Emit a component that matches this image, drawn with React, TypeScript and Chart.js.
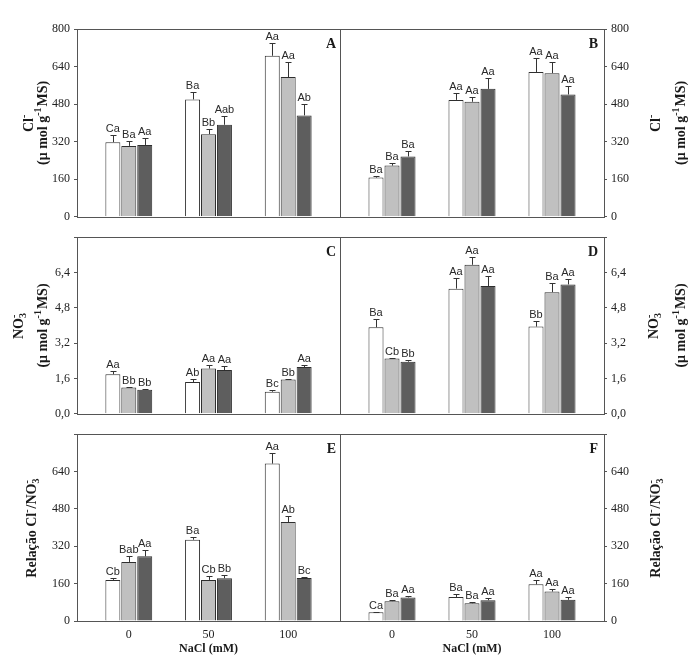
import React, { useEffect, useRef } from 'react';
import { Chart, registerables } from 'chart.js';

Chart.register(...registerables);

// ---------- DATA ----------
const doses = ['0', '50', '100'];
const fills = ['#ffffff', '#c0c0c0', '#5e5e5e'];

// Panel A (Cl-, left)
const aMeans = [[318, 500, 686], [302, 352, 595], [306, 392, 432]];
const aErrs = [[30, 33, 56], [21, 21, 66], [30, 38, 48]];
const aLetters = [['Ca', 'Ba', 'Aa'], ['Ba', 'Bb', 'Aa'], ['Aa', 'Aab', 'Ab']];

// Panel B (Cl-, right)
const bMeans = [[167, 498, 617], [218, 490, 612], [257, 545, 521]];
const bErrs = [[7, 31, 58], [12, 20, 47], [23, 46, 37]];
const bLetters = [['Ba', 'Aa', 'Aa'], ['Ba', 'Aa', 'Aa'], ['Ba', 'Aa', 'Aa']];

// Panel C (NO3-, left)
const cMeans = [[1.79, 1.44, 1.0], [1.19, 2.05, 1.55], [1.085, 1.98, 2.12]];
const cErrs = [[0.16, 0.15, 0.07], [0.04, 0.16, 0.04], [0.03, 0.19, 0.08]];
const cLetters = [['Aa', 'Ab', 'Bc'], ['Bb', 'Aa', 'Bb'], ['Bb', 'Aa', 'Aa']];

// Panel D (NO3-, right)
const dMeans = [[3.92, 5.67, 3.95], [2.5, 6.75, 5.51], [2.36, 5.79, 5.86]];
const dErrs = [[0.36, 0.47, 0.24], [0.03, 0.37, 0.43], [0.08, 0.43, 0.26]];
const dLetters = [['Ba', 'Aa', 'Bb'], ['Cb', 'Aa', 'Ba'], ['Bb', 'Aa', 'Aa']];

// Panel E (Cl-/NO3-, left)
const eMeans = [[176, 348, 674], [253, 176, 424], [277, 183, 184]];
const eErrs = [[7, 13, 44], [26, 15, 24], [29, 12, 5]];
const eLetters = [['Cb', 'Ba', 'Aa'], ['Bab', 'Cb', 'Ab'], ['Aa', 'Bb', 'Bc']];

// Panel F (Cl-/NO3-, right)
const fMeans = [[38, 103, 157], [85, 76, 126], [101, 89, 91]];
const fErrs = [[2, 11, 18], [6, 5, 11], [7, 11, 10]];
const fLetters = [['Ca', 'Ba', 'Aa'], ['Ba', 'Ba', 'Aa'], ['Aa', 'Aa', 'Aa']];

const xTitle = 'NaCl (mM)';

type Seg = { t: string; k?: 'sup' | 'sub' | 'subsup'; t2?: string };
const clTitle: Seg[] = [{ t: 'Cl' }, { t: '-', k: 'sup' }];
const no3Title: Seg[] = [{ t: 'NO' }, { t: '3', k: 'subsup', t2: '-' }];
const unitTitle: Seg[] = [{ t: '(μ mol g' }, { t: '-1', k: 'sup' }, { t: 'MS)' }];
const ratioTitle: Seg[] = [
  { t: 'Relação Cl' },
  { t: '-', k: 'sup' },
  { t: '/NO' },
  { t: '3', k: 'subsup', t2: '-' },
];

// ---------- DRAW HELPERS ----------
function drawRich(ctx: CanvasRenderingContext2D, segs: Seg[], cx: number, cy: number, size: number) {
  ctx.save();
  ctx.translate(cx, cy);
  ctx.rotate(-Math.PI / 2);
  const big = `bold ${size}px "Liberation Serif"`;
  const small = `bold ${Math.round(size * 0.72)}px "Liberation Serif"`;
  const widths = segs.map((s) => {
    if (!s.k) {
      ctx.font = big;
      return ctx.measureText(s.t).width;
    }
    ctx.font = small;
    const a = ctx.measureText(s.t).width;
    const b = s.t2 ? ctx.measureText(s.t2).width : 0;
    return Math.max(a, b) + 1;
  });
  const total = widths.reduce((p, c) => p + c, 0);
  let x = -total / 2;
  ctx.textAlign = 'left';
  ctx.textBaseline = 'alphabetic';
  ctx.fillStyle = '#1a1a1a';
  const base = size * 0.35;
  segs.forEach((s, i) => {
    if (!s.k) {
      ctx.font = big;
      ctx.fillText(s.t, x, base);
    } else if (s.k === 'sup') {
      ctx.font = small;
      ctx.fillText(s.t, x, base - size * 0.42);
    } else if (s.k === 'sub') {
      ctx.font = small;
      ctx.fillText(s.t, x, base + size * 0.22);
    } else {
      ctx.font = small;
      ctx.fillText(s.t, x, base + size * 0.22);
      if (s.t2) ctx.fillText(s.t2, x, base - size * 0.42);
    }
    x += widths[i];
  });
  ctx.restore();
}

interface PanelCfg {
  left: number;
  top: number;
  width: number;
  height: number;
  pad: { left: number; right: number; top: number; bottom: number };
  yPos: 'left' | 'right';
  yWidth: number;
  yMax: number;
  yStep: number;
  showTopLabel: boolean;
  decimals: number;
  xHeight: number;
  showX: boolean;
  letter: string;
  means: number[][];
  errs: number[][];
  letters: string[][];
  titles: { segs: Seg[]; x: number }[];
}

function makePlugin(p: PanelCfg) {
  return {
    id: 'panelDeco' + p.letter,
    afterDatasetsDraw(chart: any) {
      const ctx: CanvasRenderingContext2D = chart.ctx;
      const { left, top, right, bottom } = chart.chartArea;
      const y = chart.scales.y;
      p.means.forEach((vals, di) => {
        const meta = chart.getDatasetMeta(di);
        meta.data.forEach((bar: any, j: number) => {
          const v = vals[j];
          const e = p.errs[di][j];
          const yv = y.getPixelForValue(v);
          const yt = y.getPixelForValue(v + e);
          const x = Math.round(bar.x) + 0.5;
          ctx.save();
          ctx.strokeStyle = '#333';
          ctx.lineWidth = 1;
          if (e > 0) {
            ctx.beginPath();
            ctx.moveTo(x, yv);
            ctx.lineTo(x, Math.round(yt) + 0.5);
            ctx.moveTo(x - 3, Math.round(yt) + 0.5);
            ctx.lineTo(x + 3, Math.round(yt) + 0.5);
            ctx.stroke();
          }
          ctx.font = '11px "Liberation Sans"';
          ctx.fillStyle = '#2a2a2a';
          ctx.textAlign = 'center';
          ctx.textBaseline = 'alphabetic';
          ctx.fillText(p.letters[di][j], bar.x, yt - 3);
          ctx.restore();
        });
      });
      ctx.save();
      ctx.strokeStyle = '#555';
      ctx.lineWidth = 1;
      ctx.strokeRect(Math.round(left) + 0.5, Math.round(top) + 0.5, Math.round(right - left), Math.round(bottom - top));
      ctx.font = 'bold 14px "Liberation Serif"';
      ctx.fillStyle = '#1a1a1a';
      ctx.textAlign = 'right';
      ctx.textBaseline = 'middle';
      ctx.fillText(p.letter, right - (p.yPos === 'left' ? 4 : 6), top + 15);
      const cy = (top + bottom) / 2;
      p.titles.forEach((t) => drawRich(ctx, t.segs, t.x - p.left, cy, 14));
      if (p.showX) {
        ctx.font = 'bold 12px "Liberation Serif"';
        ctx.textAlign = 'center';
        ctx.textBaseline = 'middle';
        ctx.fillText(xTitle, (left + right) / 2, 649 - p.top);
      }
      ctx.restore();
    },
  };
}

function Panel({ p }: { p: PanelCfg }) {
  const ref = useRef<HTMLCanvasElement>(null);
  useEffect(() => {
    if (!ref.current) return;
    const fmt = (v: number) => (p.decimals ? v.toFixed(p.decimals).replace('.', ',') : String(Math.round(v)));
    const chart = new Chart(ref.current, {
      type: 'bar',
      data: {
        datasets: p.means.map((vals, i) => ({
          label: 'S' + i,
          data: vals.map((v, j) => ({ x: j, y: v })),
          backgroundColor: fills[i],
          borderColor: '#2e2e2e',
          borderWidth: 1,
          categoryPercentage: 0.6,
          barPercentage: 0.94,
        })),
      },
      options: {
        animation: false,
        responsive: false,
        layout: { padding: p.pad },
        plugins: { legend: { display: false }, tooltip: { enabled: false } },
        scales: {
          x: {
            type: 'linear',
            min: -0.65,
            max: 2.65,
            offset: false,
            display: true,
            grid: { display: false, drawTicks: false, offset: false },
            border: { display: false },
            ticks: {
              display: p.showX,
              padding: 7,
              color: '#222',
              font: { family: 'Liberation Serif', size: 12 },
              callback: (v: any) => doses[Math.round(Number(v))] ?? '',
            },
            afterBuildTicks: (s: any) => {
              s.ticks = [0, 1, 2].map((v) => ({ value: v }));
            },
            afterFit: (s: any) => {
              s.height = p.xHeight;
            },
          } as any,
          y: {
            type: 'linear',
            position: p.yPos,
            min: 0,
            max: p.yMax,
            grid: { display: true, drawOnChartArea: false, drawTicks: true, tickLength: 3, color: '#555' },
            border: { display: false },
            ticks: {
              padding: 4,
              color: '#222',
              font: { family: 'Liberation Serif', size: 12 },
              callback: (v: any) => {
                const n = Number(v);
                if (!p.showTopLabel && Math.abs(n - p.yMax) < 1e-6) return '';
                return fmt(n);
              },
            },
            afterBuildTicks: (s: any) => {
              const arr = [];
              for (let i = 0; i <= 5; i++) arr.push({ value: +(i * p.yStep).toFixed(4) });
              s.ticks = arr;
            },
            afterFit: (s: any) => {
              s.width = p.yWidth;
            },
          } as any,
        },
      },
      plugins: [makePlugin(p)],
    });
    return () => chart.destroy();
  }, [p]);
  return (
    <canvas
      ref={ref}
      width={p.width}
      height={p.height}
      style={{ position: 'absolute', left: p.left, top: p.top, width: p.width, height: p.height }}
    />
  );
}

const leftCol = { left: 0, width: 341, yPos: 'left' as const, yWidth: 77 };
const rightCol = { left: 340, width: 349, yPos: 'right' as const, yWidth: 85 };
const rowTop = { top: 0, height: 228, padTop: 29, padBottom: 1, xHeight: 0, showX: false };
const rowMid = { top: 226, height: 199, padTop: 1, padBottom: 1, xHeight: 0, showX: false };
const rowBot = { top: 423, height: 234, padTop: 1, padBottom: 0, xHeight: 36, showX: true };

function build(col: any, row: any, extra: any): PanelCfg {
  return {
    left: col.left,
    top: row.top,
    width: col.width,
    height: row.height,
    pad: {
      left: 0,
      right: col.yPos === 'left' ? 1 : 0,
      top: row.padTop,
      bottom: row.padBottom,
    },
    yPos: col.yPos,
    yWidth: col.yWidth,
    xHeight: row.xHeight,
    showX: row.showX,
    ...extra,
  };
}

const panels: PanelCfg[] = [
  build(leftCol, rowTop, {
    yMax: 800, yStep: 160, showTopLabel: true, decimals: 0, letter: 'A',
    means: aMeans, errs: aErrs, letters: aLetters,
    titles: [{ segs: clTitle, x: 28 }, { segs: unitTitle, x: 42 }],
  }),
  build(rightCol, rowTop, {
    yMax: 800, yStep: 160, showTopLabel: true, decimals: 0, letter: 'B',
    means: bMeans, errs: bErrs, letters: bLetters,
    titles: [{ segs: clTitle, x: 655 }, { segs: unitTitle, x: 680 }],
  }),
  build(leftCol, rowMid, {
    yMax: 8, yStep: 1.6, showTopLabel: false, decimals: 1, letter: 'C',
    means: cMeans, errs: cErrs, letters: cLetters,
    titles: [{ segs: no3Title, x: 18 }, { segs: unitTitle, x: 42 }],
  }),
  build(rightCol, rowMid, {
    yMax: 8, yStep: 1.6, showTopLabel: false, decimals: 1, letter: 'D',
    means: dMeans, errs: dErrs, letters: dLetters,
    titles: [{ segs: no3Title, x: 653 }, { segs: unitTitle, x: 680 }],
  }),
  build(leftCol, rowBot, {
    yMax: 800, yStep: 160, showTopLabel: false, decimals: 0, letter: 'E',
    means: eMeans, errs: eErrs, letters: eLetters,
    titles: [{ segs: ratioTitle, x: 31 }],
  }),
  build(rightCol, rowBot, {
    yMax: 800, yStep: 160, showTopLabel: false, decimals: 0, letter: 'F',
    means: fMeans, errs: fErrs, letters: fLetters,
    titles: [{ segs: ratioTitle, x: 655 }],
  }),
];

export default function App() {
  return (
    <div style={{ position: 'absolute', left: 0, top: 0, width: 689, height: 657, background: '#fff' }}>
      {panels.map((p) => (
        <Panel key={p.letter} p={p} />
      ))}
    </div>
  );
}
